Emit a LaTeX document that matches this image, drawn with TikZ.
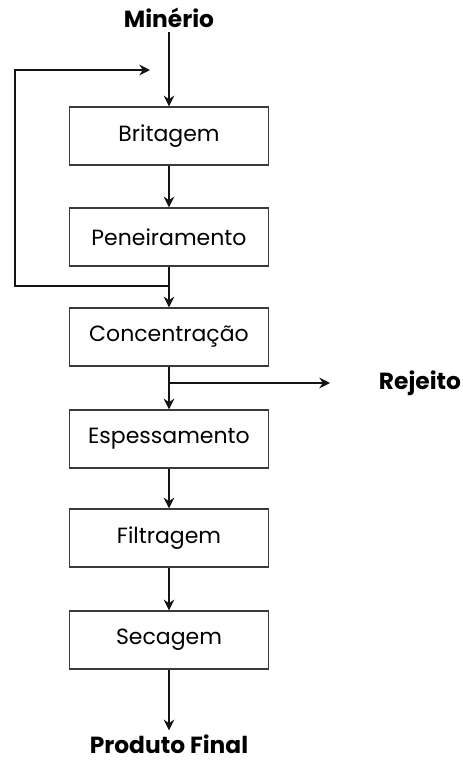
\documentclass[tikz,border=0pt]{standalone}
\usepackage{fontspec}
\setmainfont{Poppins}
\usetikzlibrary{arrows.meta,positioning,calc}
\definecolor{dark}{HTML}{141414}
\definecolor{boxline}{HTML}{3A3A3A}
\tikzset{
  stagebox/.style={draw=boxline, line width=1pt, fill=white, minimum width=149pt, minimum height=43.5pt, inner sep=0pt, font=\fontsize{16.5}{19}\selectfont},
  endlabel/.style={font=\fontsize{17.5}{20}\selectfont\bfseries, inner sep=0pt},
  arrow/.style={-{Stealth[length=8pt,width=8pt]}, line width=1.7pt, draw=dark},
  line/.style={line width=1.7pt, draw=dark}
}

\begin{document}
\begin{tikzpicture}[x=0.75pt,y=-0.75pt]
  \useasboundingbox (0,0) rectangle (463,761);
  \node[endlabel] (ore) at (169,18) {Minério};
  \node[stagebox] (crush) at (169,136) {Britagem};
  \node[stagebox] (screen) at (169,237) {Peneiramento};
  \node[stagebox] (conc) at (169,337) {Concentração};
  \node[stagebox] (thick) at (169,439) {Espessamento};
  \node[stagebox] (filter) at (169,538) {Filtragem};
  \node[stagebox] (dry) at (169,640) {Secagem};
  \node[endlabel] (reject) at (420,383) {Rejeito};
  \node[endlabel] (product) at (169,744) {Produto Final};
  % main flow
  \draw[arrow] ([yshift=-3pt]ore.south) -- (crush);
  \draw[arrow] (crush) -- (screen);
  \draw[arrow] (screen) -- (conc);
  \draw[arrow] (conc) -- (thick);
  \draw[arrow] (thick) -- (filter);
  \draw[arrow] (filter) -- (dry);
  \draw[arrow] (dry) -- ([yshift=3pt]product.north);
  % recycle to crushing
  \coordinate (fbstart) at (169,286);
  \coordinate (fbend) at (150,70);
  \draw[arrow] (fbstart) -- (15,286) |- (fbend);
  % tailings
  \coordinate (rejstart) at (169,383);
  \coordinate (rejend) at (330,383);
  \draw[arrow] (rejstart) -- (rejend);
\end{tikzpicture}
\end{document}
